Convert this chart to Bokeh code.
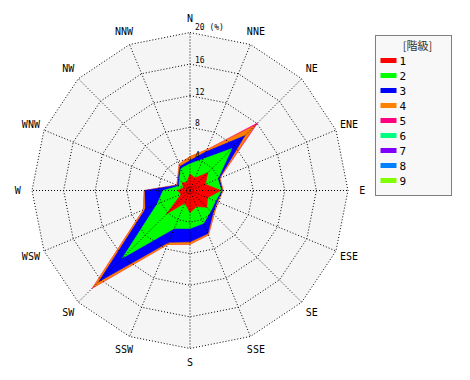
import numpy as np
from bokeh.plotting import figure
from bokeh.models import Range1d, ColumnDataSource
from bokeh.core.properties import value
from bokeh.embed import file_html
from bokeh.resources import INLINE

# ---------------- data ----------------
directions = ["N", "NNE", "NE", "ENE", "E", "ESE", "SE", "SSE",
              "S", "SSW", "SW", "WSW", "W", "WNW", "NW", "NNW"]
class_labels = ["1", "2", "3", "4", "5", "6", "7", "8", "9"]
class_colors = ["#ff0000", "#00ff00", "#0000ff", "#ff8000", "#ff0080",
                "#00ff80", "#8000ff", "#0080ff", "#80ff00"]
# frequency (%) of each class per direction
c1 = [2.1, 1.7, 3.2, 2.1, 3.9, 2.4, 3.0, 2.2, 2.8, 1.7, 4.2, 1.2, 1.6, 0.9, 1.4, 1.1]
c2 = [1.3, 2.6, 4.3, 1.7, 0.1, 1.1, 0.7, 2.3, 2.0, 3.5, 7.9, 3.3, 1.8, 0.6, 0.5, 1.9]
c3 = [0.4, 1.0, 2.3, 0.2, 0.1, 0.2, 0.4, 1.4, 1.7, 1.9, 4.2, 1.6, 2.3, 0.2, 0.2, 0.3]
c4 = [0.5, 0.3, 1.8, 0.1, 0.1, 0.1, 0.2, 0.2, 0.3, 0.3, 1.1, 0.3, 0.1, 0.1, 0.1, 0.3]
c5 = [0.0, 0.0, 0.5, 0.0, 0.0, 0.0, 0.0, 0.0, 0.0, 0.0, 0.1, 0.0, 0.0, 0.0, 0.0, 0.0]
c6 = [0.0] * 16
c7 = [0.0] * 16
c8 = [0.0] * 16
c9 = [0.0] * 16
ring_values = [4, 8, 12, 16, 20]
ring_labels = ["4", "8", "12", "16", "20 (%)"]

# ---------------- layout ----------------
W, H = 454, 372
S = 7.9                      # pixels per percent
CX, CY = 189.5, 190.0        # centre in canvas pixels
RMAX = 20.0
LABEL_R = 21.8

def dx(px):
    return (px - CX) / S

def dy(py):
    return (CY - py) / S

p = figure(width=W, height=H, output_backend="svg", toolbar_location=None,
           x_range=Range1d(dx(0), dx(W)), y_range=Range1d(dy(H), dy(0)),
           x_axis_location=None, y_axis_location=None, min_border=0,
           background_fill_color="white", border_fill_color="white")
p.grid.visible = False
p.outline_line_color = None

theta = np.deg2rad(np.arange(16) * 22.5)
sx, cy = np.sin(theta), np.cos(theta)

def poly(rvals):
    rv = np.asarray(rvals, dtype=float) * np.ones(16)
    return list(rv * sx), list(rv * cy)

# background disc
bx, by = poly(RMAX)
p.patch(bx, by, fill_color="#f5f5f5", line_color=None)

# stacked polygons
stack = np.array([c1, c2, c3, c4, c5, c6, c7, c8, c9])
cum = np.cumsum(stack, axis=0)
for k in range(8, -1, -1):
    if not np.any(stack[k] > 0):
        continue
    xs, ys = poly(cum[k])
    p.patch(xs, ys, fill_color=class_colors[k], line_color=class_colors[k],
            line_width=0.6)

# grid rings
for r in ring_values:
    xs, ys = poly(r)
    p.line(xs + [xs[0]], ys + [ys[0]], line_color="black", line_width=1,
           line_dash="1 2")
# spokes
for i in range(16):
    p.line([0, RMAX * sx[i]], [0, RMAX * cy[i]], line_color="black",
           line_width=1, line_dash="1 2")

# ring labels
p.text(x=[5 / S] * len(ring_values), y=[r + 1 / S for r in ring_values],
       text=ring_labels, text_font=value("DejaVu Sans Mono"),
       text_font_size="8px", text_align="left", text_baseline="bottom",
       text_color="black")

# direction labels
p.text(x=list(LABEL_R * sx), y=list(LABEL_R * cy), text=directions,
       text_font=value("DejaVu Sans Mono"), text_font_size="10px",
       text_align="center", text_baseline="middle", text_color="black")

# legend (manual)
lx0, ly0, lx1, ly1 = 375, 35, 451, 195
p.quad(left=[dx(lx0)], right=[dx(lx1)], top=[dy(ly0)], bottom=[dy(ly1)],
       fill_color="#f8f8f8", line_color="black", line_width=1, line_dash="1 1")
p.text(x=[dx(417)], y=[dy(44)], text=["[階級]"],
       text_font=value("Noto Sans CJK JP"), text_font_size="11px",
       text_align="center", text_baseline="middle", text_color="#333333")
item_y = [dy(60 + 15 * i) for i in range(len(class_labels))]
leg = ColumnDataSource(dict(x0=[dx(380)] * 9, x1=[dx(396)] * 9,
                            top=[v + 2.5 / S for v in item_y],
                            bottom=[v - 2.5 / S for v in item_y],
                            color=class_colors, ty=item_y,
                            tx=[dx(399)] * 9, label=class_labels))
p.quad(left="x0", right="x1", top="top", bottom="bottom", fill_color="color",
       line_color=None, source=leg)
p.text(x="tx", y="ty", text="label", source=leg,
       text_font=value("DejaVu Sans Mono"), text_font_size="11px",
       text_align="left", text_baseline="middle", text_color="black")

open("out.html", "w").write(file_html(p, INLINE))
